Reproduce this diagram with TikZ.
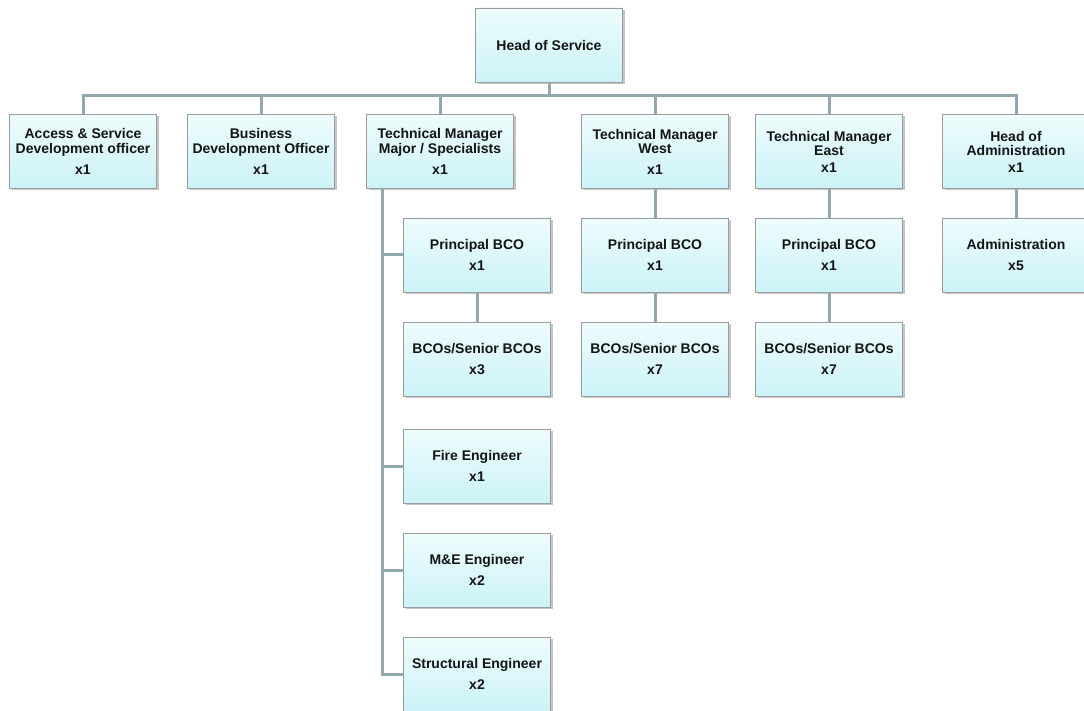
\documentclass[tikz,border=0pt]{standalone}
\usepackage{fontspec}
\setmainfont{Liberation Sans}
\usetikzlibrary{shadows}
\definecolor{boxTop}{HTML}{EEFCFD}
\definecolor{boxBot}{HTML}{CBF3F7}
\definecolor{boxLine}{HTML}{9C9C9C}
\definecolor{linkGrey}{HTML}{93A8AE}
\definecolor{txtDark}{HTML}{141414}

\begin{document}
\begin{tikzpicture}[x=1pt, y=-1pt,
    every node/.style={font=\fontsize{14}{14.5}\selectfont\bfseries, text=txtDark},
    post/.style={draw=boxLine, top color=boxTop, bottom color=boxBot,
      minimum width=147pt, minimum height=74pt, align=center, inner sep=1pt,
      drop shadow={shadow xshift=2pt, shadow yshift=-2pt, fill=black!45, opacity=.5}},
    link/.style={draw=linkGrey, line width=3pt}]
        \useasboundingbox[fill=white] (0,0) rectangle (1084,711);
        \coordinate (bus) at (549,96);
        \coordinate (rail) at (382,188);
        % top level
        \node[post] (head) at (549,45) {Head of Service};
        \node[post] (access) at (83,151.5) {Access \& Service\\Development officer\\[7pt]x1};
        \node[post] (busdev) at (261,151.5) {Business\\Development Officer\\[7pt]x1};
        \node[post] (major) at (440,151.5) {Technical Manager\\Major / Specialists\\[7pt]x1};
        \node[post] (west) at (655,151.5) {Technical Manager\\West\\[6pt]x1};
        \node[post] (east) at (829,151.5) {Technical Manager\\East\\[2pt]x1};
        \node[post] (admhead) at (1016,151.5) {Head of\\Administration\\[2pt]x1};
        % major / specialists team
        \node[post] (majpbco) at (477,255) {Principal BCO\\[7pt]x1};
        \node[post] (majbco) at (477,359) {BCOs/Senior BCOs\\[7pt]x3};
        \node[post] (fire) at (477,466) {Fire Engineer\\[7pt]x1};
        \node[post] (mande) at (477,570) {M\&E Engineer\\[7pt]x2};
        \node[post] (struct) at (477,674) {Structural Engineer\\[7pt]x2};
        % west and east teams
        \node[post] (wstpbco) at (655,255) {Principal BCO\\[7pt]x1};
        \node[post] (wstbco) at (655,359) {BCOs/Senior BCOs\\[7pt]x7};
        \node[post] (estpbco) at (829,255) {Principal BCO\\[7pt]x1};
        \node[post] (estbco) at (829,359) {BCOs/Senior BCOs\\[7pt]x7};
        % administration
        \node[post] (admin) at (1016,255) {Administration\\[7pt]x5};
        % connectors
        \draw[link] (head.south) -- (bus);
        \draw[link] (bus) -| (access.north);
        \draw[link] (bus) -| (busdev.north);
        \draw[link] (bus) -| (major.north);
        \draw[link] (bus) -| (west.north);
        \draw[link] (bus) -| (east.north);
        \draw[link] (bus) -| (admhead.north);
        \draw[link] (rail) |- (majpbco.west);
        \draw[link] (rail) |- (fire.west);
        \draw[link] (rail) |- (mande.west);
        \draw[link] (rail) |- (struct.west);
        \draw[link] (majpbco) -- (majbco);
        \draw[link] (west) -- (wstpbco);
        \draw[link] (wstpbco) -- (wstbco);
        \draw[link] (east) -- (estpbco);
        \draw[link] (estpbco) -- (estbco);
        \draw[link] (admhead) -- (admin);
      \end{tikzpicture}
\end{document}
